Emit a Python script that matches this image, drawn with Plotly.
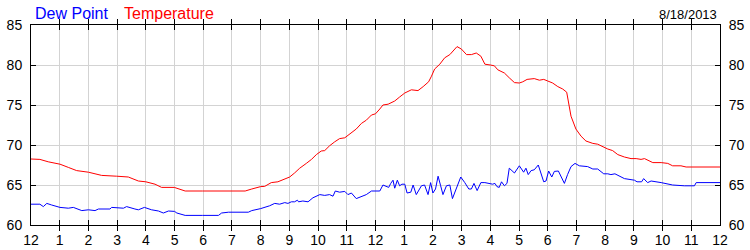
import plotly.graph_objects as go

# Temperature (hours since midnight, °F)
temp_hours = [0.00, 0.31, 0.60, 1.01, 1.30, 1.59, 2.00, 2.23, 2.46, 2.98, 3.39, 3.74, 4.00, 4.32, 4.55, 4.99,
              5.37, 5.97, 6.99, 7.46, 7.69, 8.00, 8.14, 8.37, 8.60, 8.84, 9.01, 9.18, 9.36, 9.59, 9.77, 9.94,
              10.11, 10.23, 10.40, 10.58, 10.75, 10.93, 11.16, 11.33, 11.51, 11.68, 11.86, 12.00, 12.15, 12.26,
              12.44, 12.67, 12.84, 13.02, 13.25, 13.48, 13.66, 13.85, 13.95, 14.06, 14.24, 14.41, 14.59, 14.70,
              14.84, 14.99, 15.17, 15.34, 15.51, 15.67, 15.81, 16.00, 16.14, 16.26, 16.49, 16.66, 16.84, 17.01,
              17.13, 17.28, 17.53, 17.71, 17.86, 18.00, 18.17, 18.35, 18.52, 18.66, 18.72, 18.81, 18.98, 19.16,
              19.33, 19.57, 19.74, 19.91, 20.09, 20.26, 20.44, 20.67, 20.90, 21.08, 21.25, 21.37, 21.48, 21.66,
              21.95, 22.18, 22.35, 22.64, 22.82, 24.00]
temp_values = [68.25, 68.2, 67.9, 67.6, 67.2, 66.8, 66.6, 66.4, 66.2, 66.1, 66.0, 65.5, 65.4, 65.1, 64.7, 64.7,
               64.25, 64.25, 64.25, 64.25, 64.5, 64.8, 64.83, 65.3, 65.4, 65.8, 66.0, 66.5, 67.1, 67.7, 68.2, 68.8,
               69.25, 69.3, 69.9, 70.4, 70.8, 70.9, 71.5, 72.0, 72.7, 73.1, 73.75, 73.9, 74.5, 75.0,
               75.1, 75.5, 76.0, 76.5, 76.9, 76.8, 77.3, 77.9, 78.6, 79.5, 80.1, 80.9, 81.3, 81.8,
               82.3, 82.0, 81.3, 81.3, 81.5, 81.1, 80.1, 80.0, 79.9, 79.4, 79.0, 78.4, 77.8, 77.75,
               77.9, 78.2, 78.3, 78.1, 78.2, 78.0, 77.75, 77.3, 77.0, 76.6, 75.3, 73.6, 72.0, 71.1,
               70.5, 70.2, 70.1, 69.8, 69.5, 69.3, 68.8, 68.5, 68.3, 68.3, 68.2, 68.3, 68.1, 67.8,
               67.8, 67.7, 67.4, 67.4, 67.25, 67.25]

# Dew point (hours since midnight, °F)
dew_hours = [0.00, 0.31, 0.43, 0.55, 0.72, 1.01, 1.30, 1.475, 1.77, 2.00, 2.23, 2.35, 2.75, 2.81, 3.22, 3.33,
             3.62, 3.74, 3.95, 4.20, 4.44, 4.61, 4.79, 5.00, 5.08, 5.37, 5.97, 6.53, 6.64, 6.88, 7.57, 7.69,
             8.00, 8.14, 8.31, 8.49, 8.66, 8.84, 8.95, 9.07, 9.18, 9.28, 9.32, 9.47, 9.65, 9.82, 10.06, 10.23,
             10.40, 10.52, 10.60, 10.75, 10.93, 11.04, 11.16, 11.33, 11.51, 11.68, 11.86, 12.03, 12.15, 12.26,
             12.38, 12.46, 12.53, 12.61, 12.67, 12.76, 12.84, 12.92, 13.02, 13.10, 13.23, 13.31, 13.42, 13.60,
             13.71, 13.83, 13.92, 14.00, 14.09, 14.18, 14.27, 14.35, 14.47, 14.59, 14.68, 14.82, 14.97, 15.11,
             15.25, 15.34, 15.43, 15.54, 15.67, 15.81, 16.00, 16.08, 16.16, 16.23, 16.31, 16.39, 16.49, 16.58,
             16.66, 16.84, 17.01, 17.16, 17.24, 17.32, 17.42, 17.53, 17.67, 17.77, 17.86, 17.94, 18.03, 18.14,
             18.23, 18.37, 18.49, 18.58, 18.69, 18.81, 18.95, 19.10, 19.39, 19.57, 19.74, 19.95, 20.09, 20.20,
             20.34, 20.49, 20.67, 21.02, 21.11, 21.27, 21.34, 21.48, 21.60, 21.95, 22.35, 22.76, 23.11, 23.17,
             24.00]
dew_values = [62.6, 62.6, 62.3, 62.7, 62.5, 62.2, 62.1, 62.2, 61.8, 61.9, 61.8, 62.0, 62.0, 62.2, 62.1, 62.3,
              62.0, 61.9, 62.2, 61.9, 61.75, 61.5, 61.75, 61.7, 61.5, 61.2, 61.2, 61.2, 61.5, 61.6, 61.6, 61.8,
              62.05, 62.2, 62.4, 62.7, 62.6, 62.8, 62.7, 62.9, 62.9, 63.1, 62.9, 63.0, 62.9, 63.4, 63.8, 63.7,
              63.8, 63.6, 64.25, 64.1, 64.2, 63.8, 64.0, 63.3, 63.6, 63.8, 64.25, 64.2, 64.25, 65.0,
              64.8, 64.7, 65.2, 65.6, 64.6, 65.6, 64.9, 65.1, 65.1, 64.0, 64.1, 65.0, 63.8, 64.9,
              65.0, 63.8, 65.3, 64.0, 64.5, 66.1, 64.9, 63.8, 64.9, 65.0, 63.3, 64.7, 66.0, 65.3,
              64.5, 64.5, 65.2, 64.3, 65.3, 65.3, 65.2, 65.1, 65.2, 64.8, 64.7, 65.4, 64.9, 65.2,
              67.1, 66.5, 67.4, 66.6, 67.1, 66.3, 66.8, 66.9, 67.5, 66.5, 65.4, 65.5, 66.75, 66.0,
              66.7, 66.75, 65.8, 65.2, 66.3, 67.3, 67.7, 67.4, 67.3, 67.0, 67.0, 66.4, 66.4, 66.3,
              66.4, 66.1, 65.8, 65.6, 65.4, 65.4, 65.8, 65.3, 65.5, 65.3, 65.0, 64.9, 64.9, 65.3,
              65.3]

x_tickvals = list(range(0, 25))
x_ticklabels = ["12", "1", "2", "3", "4", "5", "6", "7", "8", "9", "10", "11",
                "12", "1", "2", "3", "4", "5", "6", "7", "8", "9", "10", "11", "12"]
y_tickvals = [60, 65, 70, 75, 80, 85]

FONT = "Liberation Sans, Arial, sans-serif"

fig = go.Figure()
fig.add_trace(go.Scatter(x=temp_hours, y=temp_values, mode="lines",
                         line=dict(color="#ff0000", width=1), name="Temperature"))
fig.add_trace(go.Scatter(x=dew_hours, y=dew_values, mode="lines",
                         line=dict(color="#0000ff", width=1), name="Dew Point"))
# invisible trace to activate the right axis
fig.add_trace(go.Scatter(x=[None], y=[None], yaxis="y2", showlegend=False, hoverinfo="skip"))

L, R, T, B = 31, 30, 25, 25
W, H = 750, 250
pw, ph = W - L - R, H - T - B

axis_common = dict(
    showline=True, linecolor="black", linewidth=1,
    ticks="inside", ticklen=5, tickcolor="black", tickwidth=1,
    tickfont=dict(family=FONT, size=14, color="black"),
    zeroline=False, automargin=False,
)

fig.update_layout(
    width=W, height=H,
    margin=dict(l=L, r=R, t=T, b=B, pad=0, autoexpand=False),
    paper_bgcolor="white", plot_bgcolor="white",
    showlegend=False,
    xaxis=dict(range=[0, 24], tickmode="array", tickvals=x_tickvals, ticktext=x_ticklabels,
               mirror="allticks", ticklabelstandoff=2, gridcolor="#d3d3d3", gridwidth=1, **axis_common),
    yaxis=dict(range=[60, 85], tickmode="array", tickvals=y_tickvals,
               mirror="allticks", ticklabelstandoff=5, gridcolor="#d3d3d3", gridwidth=1, **axis_common),
    yaxis2=dict(range=[60, 85], tickmode="array", tickvals=y_tickvals, overlaying="y", side="right",
                showgrid=False, ticklabelstandoff=5, **axis_common),
    annotations=[
        dict(text="Dew Point", x=(33 - L) / pw, y=(H - B - 3) / ph, xref="paper", yref="paper",
             xanchor="left", yanchor="top", showarrow=False,
             font=dict(family=FONT, size=16, color="#0000ff")),
        dict(text="Temperature", x=(122 - L) / pw, y=(H - B - 3) / ph, xref="paper", yref="paper",
             xanchor="left", yanchor="top", showarrow=False,
             font=dict(family=FONT, size=16, color="#ff0000")),
        dict(text="8/18/2013", x=(719 - L) / pw, y=(H - B - 5) / ph, xref="paper", yref="paper",
             xanchor="right", yanchor="top", showarrow=False,
             font=dict(family=FONT, size=13, color="#000000")),
    ],
)

fig.write_html("out.html")
